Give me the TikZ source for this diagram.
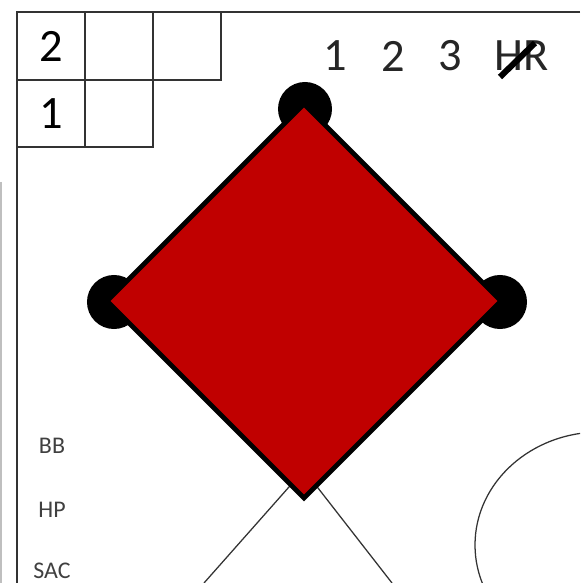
\documentclass[tikz,border=0pt]{standalone}
\usepackage{fontspec}
\setmainfont{Carlito}
\usepackage{tikz}
\usetikzlibrary{positioning}
\definecolor{plate}{HTML}{C00000}
\definecolor{ink}{HTML}{333333}

\begin{document}
\begin{tikzpicture}[x=0.025cm, y=-0.025cm,
  node distance=0pt,
  cell/.style={rectangle, draw=ink, line width=1.4pt, minimum width=1.7cm, minimum height=1.68cm, inner sep=0pt, outer sep=0pt, font=\fontsize{33}{33}\selectfont},
  count/.style={text=black!85, inner sep=0pt, font=\fontsize{33}{33}\selectfont},
  lbl/.style={text=black!75, inner sep=0pt, font=\fontsize{17}{17}\selectfont},
  bag/.style={circle, fill=black, minimum size=1.35cm, inner sep=0pt},
  foul/.style={draw=ink, line width=0.9pt}]
\useasboundingbox (0,0) rectangle (580,583);
\clip (0,0) rectangle (580,583);
% frame and inning boxes
\draw[black!25, line width=1pt] (1,182) -- (1,583);
\draw[ink, line width=1.4pt] (580,12) -- (17,12) -- (17,583);
\node[cell] (c2) at (51,46) {2};
\node[cell, right=of c2] (c2b) {};
\node[cell, right=of c2b] (c2c) {};
\node[cell, below=of c2] (c1) {1};
\node[cell, right=of c1] (c1b) {};
% bases reached
\foreach \t/\x in {1/335,2/393,3/450,HR/522} \node[count] (in\t) at (\x,56) {\t};
\draw[line width=4.3pt] (500,77) -- (535,43);
% field
\coordinate (home) at (304,470);
\coordinate (lfoul) at (204,583);
\coordinate (rfoul) at (392,583);
\draw[foul] (lfoul) -- (home) -- (rfoul);
\draw[ink, line width=0.9pt] (600,545) ellipse [x radius=125, y radius=113];
\node[bag] (second) at (305,109) {};
\node[bag] (first) at (500,302) {};
\node[bag] (third) at (114,302) {};
\draw[fill=plate, line width=3.5pt, line join=miter] (304,104) -- (501,301) -- (304,498) -- (107,301) -- cycle;
% ways on base
\foreach \t/\y in {BB/446,HP/510,SAC/571} \node[lbl] (\t) at (52,\y) {\t};
\end{tikzpicture}
\end{document}
